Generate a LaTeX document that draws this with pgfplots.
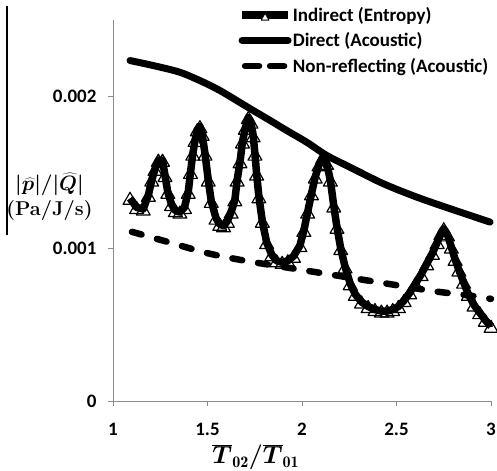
\documentclass[border=0pt]{standalone}
\usepackage{fontspec}
\newfontfamily\carlito{Carlito}
\usepackage{bm}
\usepackage{pgfplots}
\pgfplotsset{compat=1.18}
\usepackage{pgfplotstable}

\pgfplotstableread{
x y
1.090 0.00133
1.125 0.00127
1.160 0.00126
1.187 0.00135
1.205 0.00145
1.222 0.00152
1.240 0.00158
1.262 0.00158
1.275 0.00148
1.290 0.00137
1.310 0.00129
1.330 0.00125
1.354 0.00124
1.378 0.00127
1.398 0.00137
1.410 0.00150
1.422 0.00162
1.434 0.00171
1.446 0.00178
1.460 0.00180
1.472 0.00175
1.487 0.00162
1.504 0.00145
1.520 0.00131
1.545 0.00120
1.565 0.00116
1.585 0.00115
1.605 0.00118
1.625 0.00124
1.645 0.00132
1.657 0.00145
1.672 0.00157
1.685 0.00170
1.700 0.00179
1.716 0.00186
1.730 0.00183
1.742 0.00174
1.751 0.00162
1.760 0.00149
1.772 0.00134
1.790 0.00118
1.813 0.00104
1.840 0.00096
1.866 0.00092
1.895 0.00091
1.925 0.00092
1.955 0.00095
1.989 0.00102
2.010 0.00112
2.030 0.00124
2.050 0.00136
2.070 0.00147
2.090 0.00155
2.110 0.00160
2.130 0.00156
2.150 0.00145
2.168 0.00128
2.185 0.00114
2.205 0.00100
2.228 0.00088
2.255 0.00077
2.282 0.00070
2.315 0.00065
2.350 0.00062
2.386 0.00060
2.420 0.00059
2.450 0.00059
2.480 0.00060
2.510 0.00062
2.540 0.00066
2.570 0.00071
2.600 0.00077
2.630 0.00083
2.660 0.00090
2.690 0.00097
2.715 0.00104
2.735 0.00110
2.750 0.00113
2.770 0.00109
2.790 0.00101
2.810 0.00093
2.830 0.00086
2.855 0.00078
2.880 0.00070
2.910 0.00063
2.940 0.00058
2.970 0.00053
3.000 0.00049
}\indirect

\pgfplotstableread{
x y
1.090 0.002234
1.213 0.002201
1.354 0.002157
1.478 0.002092
1.566 0.002037
1.654 0.001972
1.742 0.001906
1.831 0.001841
1.919 0.001775
2.025 0.001698
2.131 0.001611
2.254 0.001534
2.430 0.001426
2.607 0.001338
2.783 0.001262
2.995 0.001174
}\direct

\pgfplotstableread{
x y
1.1 0.00111
1.3 0.00104
1.5 0.00097
1.7 0.00092
1.9 0.00088
2.1 0.00084
2.3 0.00080
2.5 0.00076
2.7 0.00072
2.9 0.00069
3.0 0.00067
}\nonrefl

\begin{document}
\begin{tikzpicture}
\begin{axis}[
  scale only axis, width=378pt, height=381pt,
  xmin=1, xmax=3, ymin=0, ymax=0.0025,
  axis x line*=bottom, axis y line*=left,
  axis line style={black!45, line width=0.8pt},
  xtick={1,1.5,2,2.5,3}, xticklabels={1,1.5,2,2.5,3},
  ytick={0,0.001,0.002}, yticklabels={0,0.001,0.002},
  scaled y ticks=false,
  tick align=outside, major tick length=5pt,
  tick style={black!45, line width=0.8pt},
  ticklabel style={font=\fontsize{19}{22}\selectfont\carlito\bfseries},
  xticklabel style={yshift=-14pt},
  yticklabel style={xshift=-8pt},
  clip=false,
  legend style={at={(rel axis cs:0.331,1.037)}, anchor=north west, draw=none, fill=none,
    font=\fontsize{19}{22}\selectfont\carlito\bfseries, row sep=8pt, inner sep=0pt,
    nodes={inner sep=1pt}},
  legend cell align=left,
  legend image code/.code={\draw[#1] (0pt,0pt) -- (46pt,0pt);},
  every axis x label/.style={at={(rel axis cs:0.378,0)}, anchor=center, yshift=-56pt,
    font=\fontsize{23}{26}\selectfont},
  every axis y label/.style={at={(rel axis cs:0,0.535)}, anchor=center, xshift=-63.5pt,
    align=center, font=\fontsize{20}{25}\selectfont\bfseries},
  xlabel={$\bm{\overline{T}}_{\mathbf{02}}\bm{/}\bm{\overline{T}}_{\mathbf{01}}$},
  ylabel={$\bm{|\widehat{p}|/\big|\widehat{Q}\big|}$\\(Pa/J/s)},
]
\addplot[black, line width=7.5pt, line join=round, mark=triangle, mark size=8pt,
  mark options={line width=1.2pt, solid, yshift=-2pt},
  legend image code/.code={\draw[black, line width=7.5pt] (0pt,0pt) -- (46pt,0pt);
    \begin{scope}[shift={(23pt,-3pt)}]\pgfsetlinewidth{0.8pt}\pgfsetfillcolor{white}%
    \pgfsetstrokecolor{black}\pgfsetplotmarksize{4.5pt}\pgfuseplotmark{triangle*}\end{scope}}]
  table[x=x, y=y] {\indirect};
\addlegendentry{Indirect (Entropy)}
\addplot[black, line width=7pt, smooth, line cap=round]
  table[x=x, y=y] {\direct};
\addlegendentry{Direct (Acoustic)}
\addplot[black, line width=6.5pt, smooth, line cap=round, dash pattern=on 10pt off 16pt,
  legend image code/.code={\draw[black, line width=6.5pt, line cap=round, dash pattern=on 14pt off 11pt] (3pt,0pt) -- (44pt,0pt);}]
  table[x=x, y=y] {\nonrefl};
\addlegendentry{Non-reflecting (Acoustic)}
\coordinate (bl) at (rel axis cs:0,0);
\coordinate (tr) at (rel axis cs:1,1);
\draw[black, line width=1.2pt] ([xshift=-106pt]rel axis cs:0,0.435) -- ([xshift=-106pt]rel axis cs:0,1.036);
\end{axis}
\pgfresetboundingbox
\path[use as bounding box] ([xshift=-113pt,yshift=-69.3pt]bl) rectangle ([xshift=6pt,yshift=20pt]tr);
\end{tikzpicture}
\end{document}
